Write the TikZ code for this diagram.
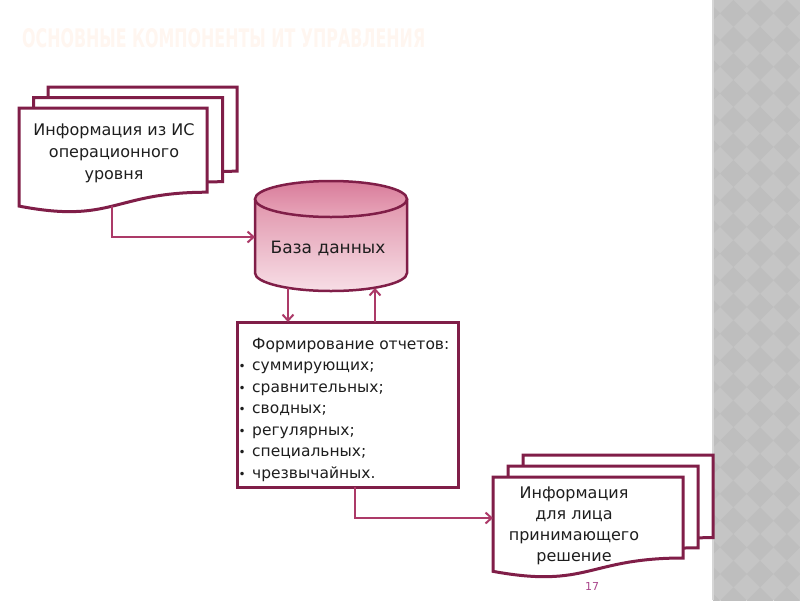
\documentclass[tikz,border=0pt]{standalone}
\usepackage{graphicx}
\usepackage{fontspec}
\setmainfont{DejaVu Sans}
\usetikzlibrary{arrows.meta}
\definecolor{docc}{RGB}{128,30,72}
\definecolor{connc}{RGB}{172,58,104}
\definecolor{txtc}{RGB}{30,30,30}
\definecolor{titlec}{RGB}{255,246,240}
\definecolor{stripl}{RGB}{197,197,197}
\definecolor{stripd}{RGB}{190,190,190}
\definecolor{stripe}{RGB}{214,214,214}
\definecolor{cyltop}{RGB}{220,134,160}
\definecolor{cylbot}{RGB}{247,222,230}
\definecolor{lidtop}{RGB}{216,124,154}
\definecolor{lidbot}{RGB}{232,166,186}
\definecolor{numc}{RGB}{170,70,140}
\newcommand{\docsheet}[4]{%
  \pgfmathsetmacro{\shXa}{#1}\pgfmathsetmacro{\shXb}{#1+#3}\pgfmathsetmacro{\shXm}{#1+#3/2}%
  \pgfmathsetmacro{\shYa}{#2}\pgfmathsetmacro{\shYr}{#2+0.802*#4}%
  \pgfmathsetmacro{\shYc}{#2+1.107*#4}\pgfmathsetmacro{\shYl}{#2+0.934*#4}%
  \filldraw[sheetst] (\shXa,\shYa) -- (\shXb,\shYa) -- (\shXb,\shYr)
    .. controls (\shXm,\shYr) and (\shXm,\shYc) .. (\shXa,\shYl) -- cycle;}
\begin{document}
\begin{tikzpicture}[x=1pt,y=-1pt,
  sheetst/.style={fill=white, draw=docc, line width=3pt},
  conn/.style={draw=connc, line width=2pt, -{Straight Barb[length=6pt,width=11pt]}},
  txt/.style={text=txtc, font=\fontsize{16}{19}\selectfont, inner sep=0pt},
  boxtxt/.style={text=txtc, font=\fontsize{15.5}{19}\selectfont, inner sep=0pt},
  boxst/.style={draw=docc, line width=3pt, minimum width=221pt, minimum height=165pt, inner sep=0pt},
  cylst/.style={draw=docc, line width=2.5pt}]
\useasboundingbox (0,0) rectangle (800,600);
\fill[white] (0,0) rectangle (800,600);
% grey strip
\fill[stripl] (713,0) rectangle (800,600);
\begin{scope}
  \clip (713,0) rectangle (800,600);
  \foreach \i in {0,...,4}{
    \foreach \j in {0,...,23}{
      \pgfmathsetmacro{\cx}{706.7+26.7*\i}
      \pgfmathsetmacro{\cy}{13.3+26.7*\j}
      \fill[stripd] (\cx-13.35,\cy) -- (\cx,\cy-13.35) -- (\cx+13.35,\cy) -- (\cx,\cy+13.35) -- cycle;
    }
  }
\end{scope}
\fill[stripe] (712,0) rectangle (714,600);
% title
\node[anchor=base west, inner sep=0pt, text=titlec] (title) at (22,47)
  {\resizebox{403pt}{19pt}{\bfseries ОСНОВНЫЕ КОМПОНЕНТЫ ИТ УПРАВЛЕНИЯ}};
% left multi-document
\docsheet{48}{87}{189}{105}
\docsheet{33.5}{97.5}{189}{105}
\docsheet{19}{108}{188}{105}
\node[txt, anchor=base] (l1) at (114,135) {Информация из ИС};
\node[txt, anchor=base] (l2) at (114,157) {операционного};
\node[txt, anchor=base] (l3) at (114,179) {уровня};
% right multi-document
\docsheet{523}{455}{190}{103}
\docsheet{508}{466}{190}{102}
\docsheet{493}{477}{190}{101}
\node[txt, anchor=base] (r1) at (574,498) {Информация};
\node[txt, anchor=base] (r2) at (574,519) {для лица};
\node[txt, anchor=base] (r3) at (574,540) {принимающего};
\node[txt, anchor=base] (r4) at (574,561) {решение};
% database cylinder
\shade[top color=cyltop, bottom color=cylbot] (255,199) -- (255,273)
  arc[start angle=180, end angle=0, x radius=76, y radius=18] -- (407,199)
  arc[start angle=0, end angle=-180, x radius=76, y radius=18] -- cycle;
\draw[cylst] (255,199) -- (255,273)
  arc[start angle=180, end angle=0, x radius=76, y radius=18] -- (407,199);
\shade[top color=lidtop, bottom color=lidbot] (331,199) ellipse[x radius=76, y radius=18];
\draw[cylst] (331,199) ellipse[x radius=76, y radius=18];
\node[txt, anchor=base, font=\fontsize{17}{20}\selectfont] (db) at (328,253) {База данных};
% report box
\node[boxst] (rep) at (347.5,404.5) {};
\node[boxtxt, anchor=base west] (b0) at (252,349) {Формирование отчетов:};
\foreach \t [count=\k] in {суммирующих;, сравнительных;, сводных;, регулярных;, специальных;, чрезвычайных.}{
  \node[boxtxt, anchor=base west] (b\k) at (238.5,{349+21.5*\k}) {\makebox[13.5pt][l]{\fontsize{12}{12}\selectfont •}\t};
}
% connector anchors
\coordinate (ldocout) at (112,206);
\coordinate (dbin) at (255,237);
\coordinate (dbout) at (288,288);
\coordinate (repin) at (288,322);
\coordinate (repout) at (375,322);
\coordinate (dbin2) at (375,288);
\coordinate (repbot) at (355,487);
\coordinate (rdocin) at (493,518);
% connectors
\draw[conn] (ldocout) |- (dbin);
\draw[conn] (dbout) -- (repin);
\draw[conn] (repout) -- (dbin2);
\draw[conn] (repbot) |- (rdocin);
% page number
\node[anchor=base, inner sep=0pt, text=numc, font=\fontsize{11}{13}\selectfont] (pg) at (592,590) {17};
\end{tikzpicture}
\end{document}
